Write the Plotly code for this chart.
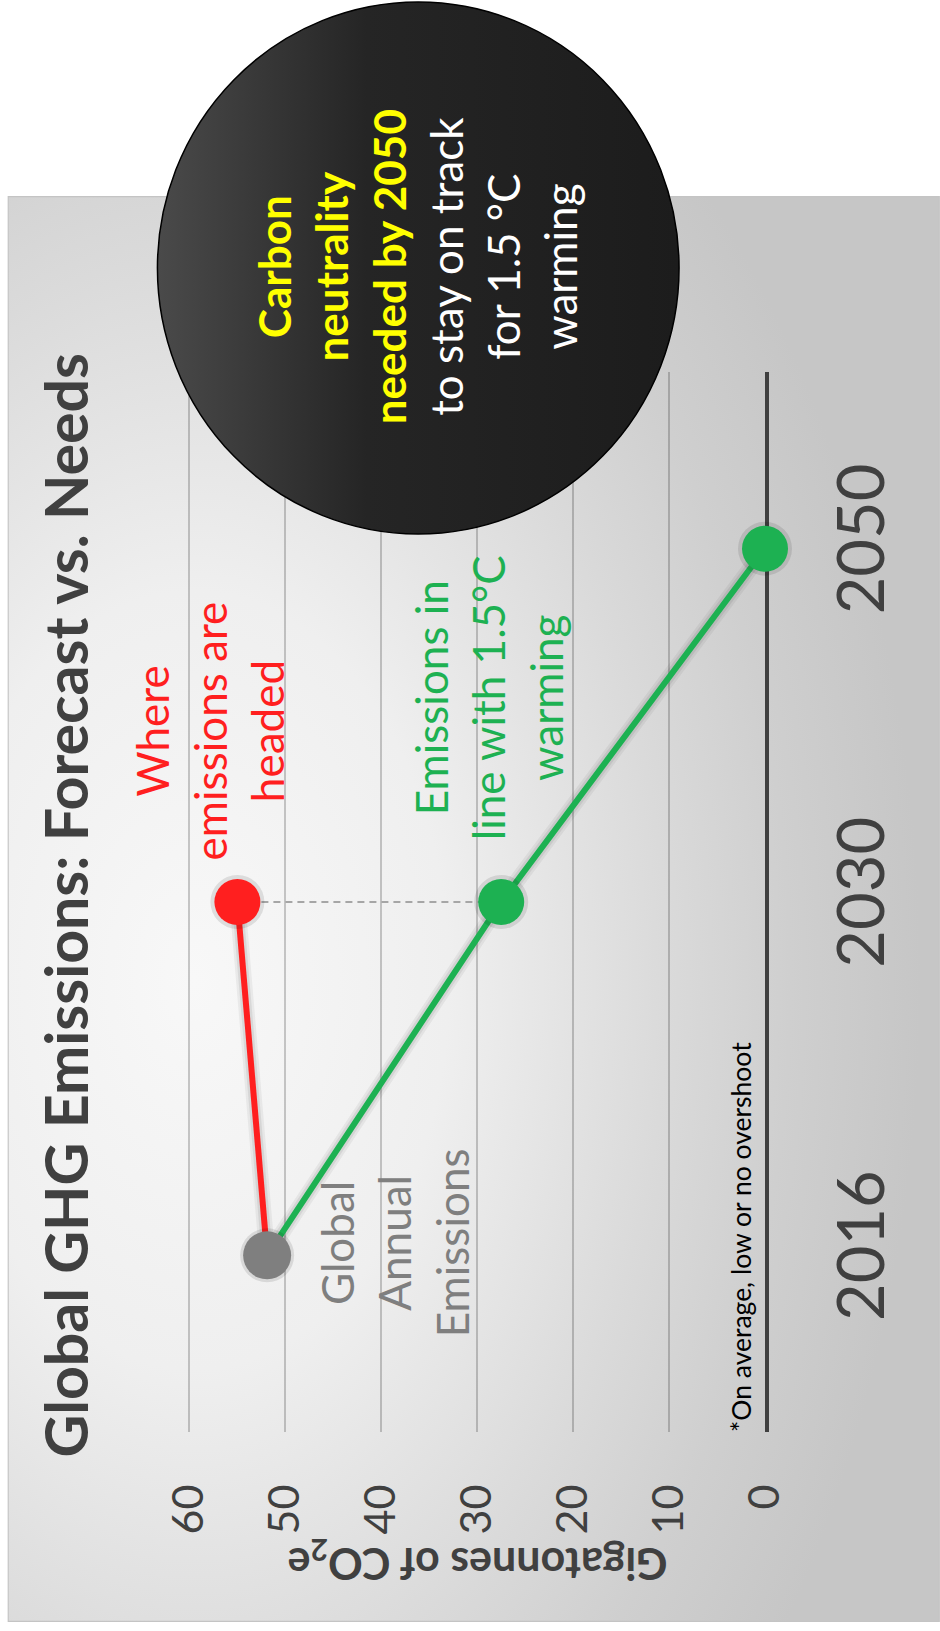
import base64
import plotly.graph_objects as go

# ---------------- data ----------------
years = ["2016", "2030", "2050"]
actual_2016 = [51.9]                 # Global annual emissions, 2016 (GtCO2e)
headed = [51.9, 55.0]                # where emissions are headed (2016, 2030)
needed = [51.9, 27.5, 0.0]           # in line with 1.5 C (2016, 2030, 2050)
x_ticks = [0, 10, 20, 30, 40, 50, 60]

W, H = 940, 1631
L, R, T, B = 187.6, 765, 372, 1432      # plot area in pixels (x range 60.15 .. 0)


def fx(px):
    return (px - L) / (R - L)


def fy(py):
    return (B - py) / (B - T)


def svg_uri(svg):
    return "data:image/svg+xml;base64," + base64.b64encode(svg.encode()).decode()


panel_svg = (
    "<svg xmlns='http://www.w3.org/2000/svg' width='933' height='1426' viewBox='0 0 933 1426'>"
    "<defs><radialGradient id='g' cx='0.2' cy='0.55' r='0.78'>"
    "<stop offset='0' stop-color='#f8f8f8'/>"
    "<stop offset='0.35' stop-color='#efefef'/>"
    "<stop offset='0.65' stop-color='#dadada'/>"
    "<stop offset='0.82' stop-color='#cfcfcf'/>"
    "<stop offset='1' stop-color='#c6c6c6'/>"
    "</radialGradient></defs>"
    "<rect x='0.5' y='0.5' width='932' height='1425' fill='url(#g)' stroke='#c4c4c4' stroke-width='1.5'/>"
    "</svg>"
)

circle_svg = (
    "<svg xmlns='http://www.w3.org/2000/svg' width='526' height='536' viewBox='0 0 526 536'>"
    "<defs><linearGradient id='c' x1='0' y1='0' x2='1' y2='0'>"
    "<stop offset='0' stop-color='#4a4a4a'/>"
    "<stop offset='0.4' stop-color='#252525'/>"
    "<stop offset='1' stop-color='#1c1c1c'/>"
    "</linearGradient></defs>"
    "<ellipse cx='263' cy='268' rx='261' ry='266' fill='url(#c)' stroke='#000' stroke-width='1.5'/>"
    "</svg>"
)

GREEN = "#1db152"
RED = "#ff1f1f"
GRAY = "#7f7f7f"
DARK = "#404040"

fig = go.Figure()

# soft shadows under lines
for w, a in [(16, 0.05), (11, 0.07)]:
    fig.add_trace(go.Scatter(x=headed, y=years[:2], mode="lines",
                             line=dict(color=f"rgba(0,0,0,{a})", width=w),
                             hoverinfo="skip", showlegend=False, cliponaxis=False))
    fig.add_trace(go.Scatter(x=needed, y=years, mode="lines",
                             line=dict(color=f"rgba(0,0,0,{a})", width=w),
                             hoverinfo="skip", showlegend=False, cliponaxis=False))

# dashed connector at 2030
fig.add_trace(go.Scatter(x=[headed[1], needed[1]], y=[years[1], years[1]], mode="lines",
                         line=dict(color="#a6a6a6", width=2, dash="7px,5px"),
                         hoverinfo="skip", showlegend=False))

# lines
fig.add_trace(go.Scatter(x=headed, y=years[:2], mode="lines",
                         line=dict(color=RED, width=6), showlegend=False, cliponaxis=False))
fig.add_trace(go.Scatter(x=needed, y=years, mode="lines",
                         line=dict(color=GREEN, width=6), showlegend=False, cliponaxis=False))

# marker shadows
fig.add_trace(go.Scatter(x=[headed[1], needed[1], needed[2], actual_2016[0]],
                         y=[years[1], years[1], years[2], years[0]], mode="markers",
                         marker=dict(size=54, color="rgba(0,0,0,0.10)", line=dict(width=0)),
                         hoverinfo="skip", showlegend=False, cliponaxis=False))

# markers
fig.add_trace(go.Scatter(x=[headed[1]], y=[years[1]], mode="markers",
                         marker=dict(size=46, color=RED, line=dict(width=0)),
                         showlegend=False, cliponaxis=False))
fig.add_trace(go.Scatter(x=needed[1:], y=years[1:], mode="markers",
                         marker=dict(size=46, color=GREEN, line=dict(width=0)),
                         showlegend=False, cliponaxis=False))
fig.add_trace(go.Scatter(x=actual_2016, y=years[:1], mode="markers",
                         marker=dict(size=48, color=GRAY, line=dict(width=0)),
                         showlegend=False, cliponaxis=False))

annotations = [
    dict(text="<b>Global GHG Emissions: Forecast vs. Needs</b>", x=fx(66), y=fy(905),
         font=dict(family="Lato", size=59, color=DARK)),
    dict(text="Where<br>emissions are<br>headed", x=fx(209), y=fy(731),
         font=dict(family="Lato", size=44, color=RED)),
    dict(text="Emissions in<br>line with 1.5°C<br>warming", x=fx(488), y=fy(698),
         font=dict(family="Lato", size=44, color=GREEN)),
    dict(text="Global<br>Annual<br>Emissions", x=fx(394), y=fy(1243),
         font=dict(family="Lato", size=44, color=GRAY)),
    dict(text="*On average, low or no overshoot", x=fx(741), y=fy(1237),
         font=dict(family="Lato", size=26.5, color="#000000")),
    dict(text="<span style='color:#ffff00'><b>Carbon<br>neutrality<br>needed by 2050</b></span>"
              "<br>to stay on track<br>for 1.5 °C<br>warming",
         x=fx(417), y=fy(267), font=dict(family="Lato", size=44, color="#ffffff")),
]
for a in annotations:
    a.update(xref="paper", yref="paper", showarrow=False, textangle=-90,
             xanchor="center", yanchor="middle", align="center")

annotations.append(dict(text="<b>Gigatonnes of CO<sub>2</sub>e</b>", x=fx(477), y=fy(1562),
                        xref="paper", yref="paper", showarrow=False, textangle=180,
                        xanchor="center", yanchor="middle",
                        font=dict(family="Lato", size=43, color=DARK)))

fig.update_layout(
    width=W, height=H,
    margin=dict(l=L, r=W - R, t=T, b=H - B, pad=0),
    paper_bgcolor="#ffffff",
    plot_bgcolor="rgba(0,0,0,0)",
    showlegend=False,
    annotations=annotations,
    images=[
        dict(source=svg_uri(panel_svg), xref="paper", yref="paper",
             x=fx(7), y=fy(196), sizex=933 / (R - L), sizey=1426 / (B - T),
             xanchor="left", yanchor="top", sizing="stretch", layer="below"),
        dict(source=svg_uri(circle_svg), xref="paper", yref="paper",
             x=fx(155), y=fy(0), sizex=526 / (R - L), sizey=536 / (B - T),
             xanchor="left", yanchor="top", sizing="stretch", layer="above"),
    ],
    xaxis=dict(range=[60.15, 0], tickvals=x_ticks, ticktext=[str(v) for v in x_ticks],
               showgrid=True, gridcolor="rgba(0,0,0,0.2)", gridwidth=1.5,
               zeroline=False, showline=False, ticks="",
               tickangle=-90, ticklabelstandoff=43, layer="below traces",
               tickfont=dict(family="Lato", size=43, color=DARK)),
    yaxis=dict(type="category", categoryorder="array", categoryarray=years,
               range=[-0.5, 2.5], side="right", showgrid=False, zeroline=False,
               showline=True, linecolor=DARK, linewidth=4, ticks="",
               tickangle=-90, ticklabelstandoff=37, layer="below traces",
               tickfont=dict(family="Lato", size=65, color=DARK)),
)

fig.write_html("out.html", config={"displayModeBar": False},
               post_script="document.body.style.margin='0px';")
